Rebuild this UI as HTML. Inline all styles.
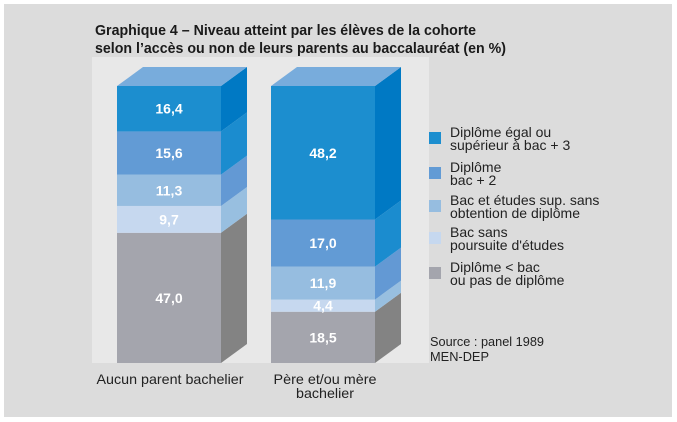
<!DOCTYPE html>
<html><head><meta charset="utf-8"><style>
html,body{margin:0;padding:0;background:#fff;}
svg{display:block;font-family:"Liberation Sans",sans-serif;}
</style></head><body>
<svg id="chart" width="677" height="422" viewBox="0 0 677 422">
<rect x="4" y="4" width="668" height="413" fill="#dcdcdc"/>
<rect x="92" y="57" width="337" height="306" fill="#e8e8e8"/>
<text x="95" y="35" font-size="15" font-weight="bold" fill="#1a1a1a" textLength="381" lengthAdjust="spacingAndGlyphs">Graphique 4 – Niveau atteint par les élèves de la cohorte</text>
<text x="95" y="53" font-size="15" font-weight="bold" fill="#1a1a1a" textLength="411" lengthAdjust="spacingAndGlyphs">selon l’accès ou non de leurs parents au baccalauréat (en %)</text>
<g id="bars"></g>
<g id="legend"></g>
<text x="430" y="346" font-size="13" fill="#222" textLength="114" lengthAdjust="spacingAndGlyphs">Source : panel 1989</text>
<text x="430" y="361" font-size="13" fill="#222" textLength="59" lengthAdjust="spacingAndGlyphs">MEN-DEP</text>
<text x="170" y="384" font-size="14" fill="#222" text-anchor="middle" textLength="147" lengthAdjust="spacingAndGlyphs">Aucun parent bachelier</text>
<text x="325" y="384" font-size="14" fill="#222" text-anchor="middle" textLength="103" lengthAdjust="spacingAndGlyphs">Père et/ou mère</text>
<text x="325" y="398" font-size="14" fill="#222" text-anchor="middle" textLength="58" lengthAdjust="spacingAndGlyphs">bachelier</text>
</svg>
<script>
const categories = ["Aucun parent bachelier", "Père et/ou mère bachelier"];
const seriesNames = ["Diplôme < bac ou pas de diplôme", "Bac sans poursuite d'études", "Bac et études sup. sans obtention de diplôme", "Diplôme bac + 2", "Diplôme égal ou supérieur à bac + 3"];
const valuesLow = [47.0, 18.5];
const valuesBacSans = [9.7, 4.4];
const valuesBacSup = [11.3, 11.9];
const valuesBac2 = [15.6, 17.0];
const valuesBac3 = [16.4, 48.2];
const labelsLow = ["47,0", "18,5"];
const labelsBacSans = ["9,7", "4,4"];
const labelsBacSup = ["11,3", "11,9"];
const labelsBac2 = ["15,6", "17,0"];
const labelsBac3 = ["16,4", "48,2"];
const legendLines = [["Diplôme égal ou","supérieur à bac + 3"],["Diplôme","bac + 2"],["Bac et études sup. sans","obtention de diplôme"],["Bac sans","poursuite d'études"],["Diplôme < bac","ou pas de diplôme"]];

const NS="http://www.w3.org/2000/svg";
const series=[valuesLow,valuesBacSans,valuesBacSup,valuesBac2,valuesBac3];
const labels=[labelsLow,labelsBacSans,labelsBacSup,labelsBac2,labelsBac3];
const front=["#a4a5ad","#c6d8ef","#96bde0","#629bd5","#1c8ecf"];
const side=["#838383","#98bfe0","#6399d4","#1b8ccf","#0079c4"];
const baseY=363, plotH=277, barW=104, dx=26, dy=19;
const x0=117, gap=154;
function xScale(i){return x0+i*gap;}
function yScale(v){return baseY - v/100*plotH;}
function mk(tag,attrs){const e=document.createElementNS(NS,tag);for(const k in attrs)e.setAttribute(k,attrs[k]);return e;}
const bars=document.getElementById('bars');
categories.forEach((c,i)=>{
  const x=xScale(i); let cum=0;
  series.forEach((s,j)=>{
    const v=s[i]; const y1=yScale(cum), y2=yScale(cum+v); cum+=v;
    const r=mk('rect',{x:x,y:y2,width:barW,height:y1-y2,fill:front[j]});
    
    
    bars.appendChild(r);
    const p=mk('polygon',{points:`${x+barW},${y1} ${x+barW+dx},${y1-dy} ${x+barW+dx},${y2-dy} ${x+barW},${y2}`,fill:side[j]});
    
    
    bars.appendChild(p);
    const t=mk('text',{x:x+barW/2,y:(y1+y2)/2+5,'text-anchor':'middle','font-size':'14','font-weight':'bold',fill:'#fff'});
    t.textContent=labels[j][i];
    
    
    bars.appendChild(t);
  });
  const yt=yScale(cum);
  const top=mk('polygon',{points:`${x},${yt} ${x+dx},${yt-dy} ${x+barW+dx},${yt-dy} ${x+barW},${yt}`,fill:'#78acdc'});
  
  
  bars.appendChild(top);
});
const lg=document.getElementById('legend');
const legY=[138,173,206,238,273];
legendLines.forEach((lines,k)=>{
  const j=4-k;
  const sq=mk('rect',{x:429,y:legY[k]-6,width:12,height:12,fill:front[j]});
  
  
  lg.appendChild(sq);
  lines.forEach((ln,m)=>{
    const t=mk('text',{x:450,y:legY[k]-1+m*13,'font-size':'14',fill:'#222'});
    t.textContent=ln;
    
    
    lg.appendChild(t);
  });
});
</script>
</body></html>
